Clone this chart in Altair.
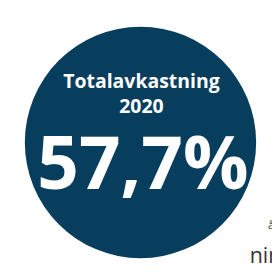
import altair as alt
import pandas as pd

# Data
labels = ["Totalavkastning"]
years = ["2020"]
values = [57.7]

def fmt(v):
    return f"{v:.1f}".replace(".", ",") + "%"

df = pd.DataFrame({
    "label": labels,
    "year": years,
    "value": values,
    "text": [fmt(v) for v in values],
})

NAVY = "#073e5e"
FONT = "Open Sans"

base = alt.Chart(df)

circle = base.mark_circle(color=NAVY, opacity=1).encode(
    x=alt.value(136.5), y=alt.value(134.5), size=alt.value(56800)
)

title = base.mark_text(font=FONT, fontWeight="bold", fontSize=20, color="white",
                       align="center", baseline="alphabetic").encode(
    x=alt.value(137.5), y=alt.value(78), text="label:N"
)
year = base.mark_text(font=FONT, fontWeight="bold", fontSize=20, color="white",
                      align="center", baseline="alphabetic").encode(
    x=alt.value(137.5), y=alt.value(104), text="year:N"
)
big = base.mark_text(font=FONT, fontWeight="bold", fontSize=75, color="white",
                     align="center", baseline="alphabetic").encode(
    x=alt.value(139), y=alt.value(182), text="text:N"
)

side_df = pd.DataFrame({"t": ["å"]})
side_df2 = pd.DataFrame({"t": ["ning"]})
side1 = alt.Chart(side_df).mark_text(font=FONT, fontSize=11, color="#333333",
                                     align="left", baseline="alphabetic").encode(
    x=alt.value(268), y=alt.value(224), text="t:N"
)
side2 = alt.Chart(side_df2).mark_text(font=FONT, fontSize=22, color="#333333",
                                      align="left", baseline="alphabetic").encode(
    x=alt.value(249), y=alt.value(259), text="t:N"
)

chart = alt.layer(circle, title, year, big, side1, side2).properties(
    width=272, height=264, padding=0, autosize=alt.AutoSizeParams(type="none"),
    background="white"
).configure_view(stroke=None)

chart.save("out.html", embed_options={"renderer": "svg", "actions": False})
